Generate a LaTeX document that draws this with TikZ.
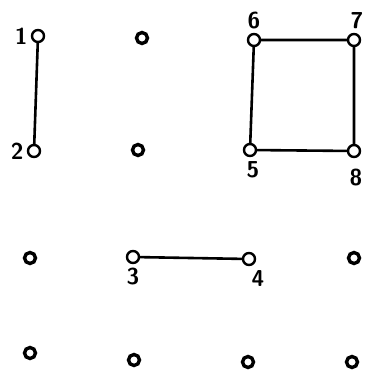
\documentclass[tikz,border=0pt]{standalone}
\usepackage{tikz}
\usetikzlibrary{positioning}

\begin{document}
\begin{tikzpicture}[x=1pt,y=-1pt,
    dot/.style={circle, draw, line width=2.4pt, inner sep=0pt, minimum size=12pt, fill=white},
    blob/.style={circle, draw, line width=3.4pt, inner sep=0pt, minimum size=11pt, fill=white},
    edge/.style={line width=2.6pt},
    lab/.style={font=\sffamily\bfseries\fontsize{23}{23}\selectfont, inner sep=0pt}]
    \useasboundingbox (0,0) rectangle (366,375);

    % numbered points
    \node[dot] (p1) at (38,36) {};
    \node[dot] (p2) at (34,151) {};
    \node[dot] (p3) at (133,257) {};
    \node[dot] (p4) at (249,259) {};
    \node[dot] (p5) at (250,150) {};
    \node[dot] (p6) at (254,40) {};
    \node[dot] (p7) at (354,40) {};
    \node[dot] (p8) at (354,151) {};

    % plain points
    \foreach \x/\y [count=\i] in {142/38, 138/150, 30/258, 354/258, 30/353, 134/360, 248/362, 352/362}
        \node[blob] (q\i) at (\x,\y) {};

    % labels
    \node[lab, left=3pt of p1] (l1) {1};
    \node[lab, left=3pt of p2] (l2) {2};
    \node[lab, below=4pt of p3] (l3) {3};
    \node[lab, below=4pt of p4, xshift=9pt] (l4) {4};
    \node[lab, below=4pt of p5, xshift=3pt] (l5) {5};
    \node[lab, above=4pt of p6] (l6) {6};
    \node[lab, above=4pt of p7, xshift=3pt] (l7) {7};
    \node[lab, below=11pt of p8, xshift=2pt] (l8) {8};

    % connections
    \draw[edge] (p1) -- (p2);
    \draw[edge] (p3) -- (p4);
    \draw[edge] (p6) -- (p7) -- (p8) -- (p5) -- (p6);
\end{tikzpicture}
\end{document}
